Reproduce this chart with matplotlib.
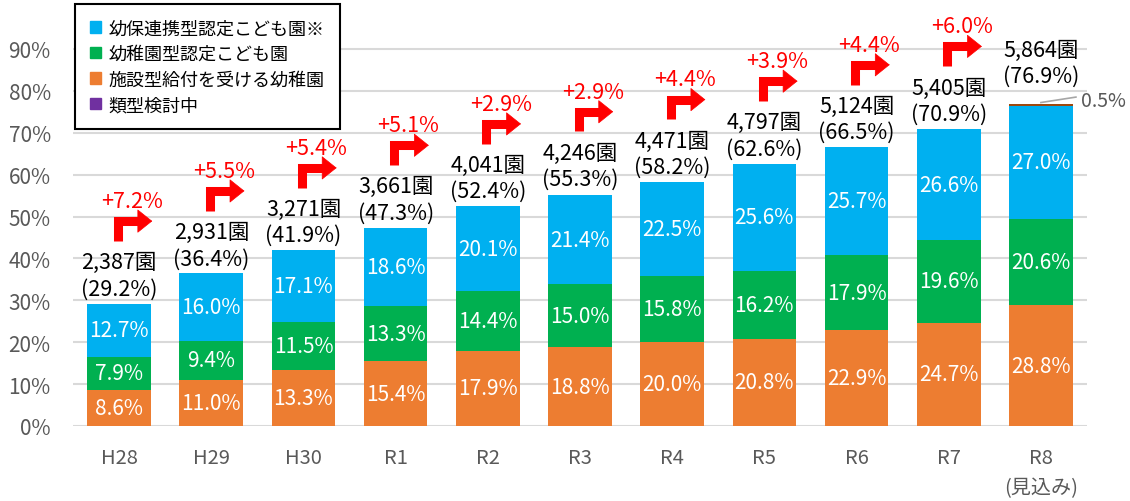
import matplotlib
matplotlib.use("Agg")
import matplotlib.pyplot as plt
import numpy as np
from matplotlib.patches import Patch

plt.rcParams["font.family"] = ["Noto Sans CJK JP", "DejaVu Sans"]

years = ["H28", "H29", "H30", "R1", "R2", "R3", "R4", "R5", "R6", "R7", "R8\n(見込み)"]
shisetsu = [8.6, 11.0, 13.3, 15.4, 17.9, 18.8, 20.0, 20.8, 22.9, 24.7, 28.8]
yochien_gata = [7.9, 9.4, 11.5, 13.3, 14.4, 15.0, 15.8, 16.2, 17.9, 19.6, 20.6]
renkei_gata = [12.7, 16.0, 17.1, 18.6, 20.1, 21.4, 22.5, 25.6, 25.7, 26.6, 27.0]
kento_chu = [0, 0, 0, 0, 0, 0, 0, 0, 0, 0, 0.5]
counts = ["2,387", "2,931", "3,271", "3,661", "4,041", "4,246", "4,471", "4,797", "5,124", "5,405", "5,864"]
totals = [29.2, 36.4, 41.9, 47.3, 52.4, 55.3, 58.2, 62.6, 66.5, 70.9, 76.9]
growth = ["+7.2%", "+5.5%", "+5.4%", "+5.1%", "+2.9%", "+2.9%", "+4.4%", "+3.9%", "+4.4%", "+6.0%"]

BLUE, GREEN, ORANGE, PURPLE, BROWN = "#00B0F0", "#00B050", "#ED7D31", "#7030A0", "#9E480E"
GRAY = "#595959"
RED = "#FF0000"

fig = plt.figure(figsize=(11.3, 5.02), dpi=100)
ax = fig.add_axes([73 / 1130, 75 / 502, 1014 / 1130, 419 / 502])

x = np.arange(len(years))
width = 0.69
bottom = np.zeros(len(years))
for values, color in [(shisetsu, ORANGE), (yochien_gata, GREEN), (renkei_gata, BLUE), (kento_chu, BROWN)]:
    values = np.asarray(values)
    bars = ax.bar(x, values, width, bottom=bottom, color=color, zorder=3)
    if color != BROWN:
        for bar, v, b in zip(bars, values, bottom):
            ax.text(bar.get_x() + bar.get_width() / 2, b + v / 2, f"{v:.1f}%",
                    ha="center", va="center", color="white", fontsize=15, zorder=4)
    bottom = bottom + values

# totals above bars
for i, (c, t) in enumerate(zip(counts, totals)):
    off = 4.0 if i == len(counts) - 1 else 1.0
    ax.text(i, t + off, f"{c}園\n({t:.1f}%)", ha="center", va="bottom", fontsize=15.5,
            color="black", linespacing=1.25, zorder=4)

# growth arrows (elbow line + head)
for i, g in enumerate(growth):
    t = totals[i]
    xs, tip = i - 0.015, i + 0.36
    y0, y1 = t + 15.0, t + 19.7
    ax.plot([xs, xs, tip - 0.12], [y0, y1, y1], color=RED, lw=6.5,
            solid_joinstyle="miter", solid_capstyle="butt", zorder=4)
    ax.annotate("", xy=(tip, y1), xytext=(tip - 0.15, y1),
                arrowprops=dict(arrowstyle="-|>,head_length=0.5,head_width=0.4", lw=0.5,
                                color=RED, shrinkA=0, shrinkB=0, mutation_scale=20),
                zorder=4)
    ax.text(i + 0.14, t + 24.5, g, ha="center", va="center", color=RED, fontsize=15.5, zorder=4)

# 0.5% leader
last = len(years) - 1
ax.plot([last + 0.0, last + 0.38], [totals[last] + 0.3, totals[last] + 1.6], color="#A6A6A6", lw=1.2,
        zorder=4, clip_on=False)
ax.text(last + 0.43, totals[last] + 0.7, f"{kento_chu[last]:.1f}%", ha="left", va="center",
        fontsize=14, color=GRAY, clip_on=False)

ax.set_xlim(-0.5, len(years) - 0.5)
ax.set_ylim(0, 100)
ax.set_yticks(np.arange(0, 100, 10))
ax.set_yticklabels([f"{v}%" for v in range(0, 100, 10)])
ax.set_xticks(x)
ax.set_xticklabels(years, linespacing=1.55)
ax.tick_params(axis="both", length=0, labelcolor=GRAY)
ax.tick_params(axis="x", pad=15, labelsize=14.5)
ax.tick_params(axis="y", pad=16, labelsize=15)
ax.grid(axis="y", color="#D9D9D9", lw=1.5, zorder=0)
for s in ax.spines.values():
    s.set_visible(False)

handles = [Patch(color=BLUE), Patch(color=GREEN), Patch(color=ORANGE), Patch(color=PURPLE)]
labels = ["幼保連携型認定こども園※", "幼稚園型認定こども園", "施設型給付を受ける幼稚園", "類型検討中"]
leg = fig.legend(handles, labels, loc="upper left", bbox_to_anchor=(75 / 1130, 1 - 5 / 502),
                 fontsize=13, frameon=True, fancybox=False, edgecolor="black", framealpha=1,
                 handlelength=0.6, handleheight=0.6, handletextpad=0.4, labelspacing=0.42,
                 borderpad=0.85, borderaxespad=0)
leg.get_frame().set_linewidth(1.5)
leg.set_zorder(10)

fig.savefig("out.png", dpi=100)
